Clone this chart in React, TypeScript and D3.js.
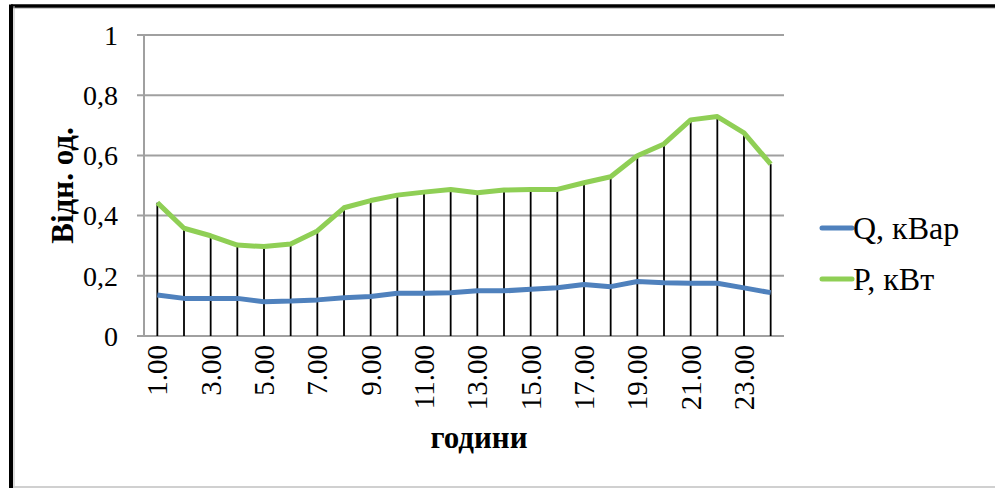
import React from "react";
import * as d3 from "d3";

// hours 1..24
const hours = d3.range(1, 25);
const qValues = [
  0.136, 0.125, 0.125, 0.125, 0.114, 0.116, 0.12, 0.127, 0.131, 0.142, 0.142, 0.144,
  0.15, 0.15, 0.155, 0.16, 0.171, 0.164, 0.181, 0.177, 0.175, 0.175, 0.16, 0.144,
];
const pValues = [
  0.443, 0.358, 0.333, 0.302, 0.297, 0.306, 0.349, 0.426, 0.45, 0.468, 0.478, 0.487,
  0.476, 0.485, 0.487, 0.487, 0.509, 0.529, 0.599, 0.638, 0.718, 0.729, 0.675, 0.571,
];
const yTicks = [0, 0.2, 0.4, 0.6, 0.8, 1];
const seriesNames = ["Q, кВар", "P, кВт"];
const seriesColors = ["#4F81BD", "#8FCF55"];

const W = 995;
const H = 488;
const FONT = "'Liberation Serif', 'Times New Roman', serif";

const App = () => {
  const margin = { left: 144, right: 211, top: 35, bottom: 152 };

  const x = d3
    .scaleBand<number>()
    .domain(hours)
    .range([margin.left, W - margin.right]);
  const cx = (h: number) => (x(h) || 0) + x.bandwidth() / 2;

  const y = d3
    .scaleLinear()
    .domain([0, 1])
    .range([H - margin.bottom, margin.top]);

  const line = d3
    .line<number>()
    .x((_, i) => cx(hours[i]))
    .y((v) => y(v));

  const series = [qValues, pValues];

  return (
    <svg
      width={W}
      height={H}
      style={{ position: "absolute", left: 0, top: 0, background: "#fff" }}
    >
      {/* frame */}
      <line x1={11} y1={6} x2={W} y2={6} stroke="#000" strokeWidth={3.5} />
      <line x1={11} y1={8.5} x2={W} y2={8.5} stroke="#ccc" strokeWidth={1} />
      <line x1={11} y1={4.5} x2={11} y2={H} stroke="#000" strokeWidth={4} />
      <line x1={14} y1={6} x2={14} y2={H} stroke="#bbb" strokeWidth={1} />
      <line x1={13} y1={H - 1} x2={W} y2={H - 1} stroke="#d0d0d0" strokeWidth={2} />

      {/* grid + y labels */}
      {yTicks.map((t) => (
        <g key={t}>
          <line
            x1={margin.left - 7}
            x2={W - margin.right}
            y1={y(t)}
            y2={y(t)}
            stroke="#a0a0a0"
            strokeWidth={2}
          />
          <text
            x={118}
            y={y(t)}
            dy="0.35em"
            textAnchor="end"
            fontFamily={FONT}
            fontSize={28}
            fill="#000"
          >
            {String(t).replace(".", ",")}
          </text>
        </g>
      ))}
      <line
        x1={margin.left}
        x2={margin.left}
        y1={y(1)}
        y2={y(0)}
        stroke="#a0a0a0"
        strokeWidth={2}
      />

      {/* drop lines */}
      {hours.map((h, i) => (
        <line
          key={h}
          x1={cx(h)}
          x2={cx(h)}
          y1={y(pValues[i])}
          y2={y(0)}
          stroke="#000"
          strokeWidth={1.8}
        />
      ))}

      {/* series */}
      {series.map((s, k) => (
        <path
          key={k}
          d={line(s) || ""}
          fill="none"
          stroke={seriesColors[k]}
          strokeWidth={5}
          strokeLinejoin="round"
        />
      ))}

      {/* x labels */}
      {hours
        .filter((h) => h % 2 === 1)
        .map((h) => (
          <text
            key={h}
            transform={`translate(${cx(h)},${y(0) + 9}) rotate(-90)`}
            dy="0.35em"
            textAnchor="end"
            fontFamily={FONT}
            fontSize={29}
            fill="#000"
          >
            {h.toFixed(2)}
          </text>
        ))}

      {/* axis titles */}
      <text
        x={479}
        y={448}
        textAnchor="middle"
        fontFamily={FONT}
        fontSize={31}
        fontWeight="bold"
      >
        години
      </text>
      <text
        transform={`translate(62,${(y(0) + y(1)) / 2}) rotate(-90)`}
        dy="0.35em"
        textAnchor="middle"
        fontFamily={FONT}
        fontSize={31}
        fontWeight="bold"
      >
        Відн. од.
      </text>

      {/* legend */}
      {seriesNames.map((name, k) => (
        <g key={name} transform={`translate(822,${228 + k * 51})`}>
          <line x1={0} x2={30} y1={0} y2={0} stroke={seriesColors[k]} strokeWidth={5} strokeLinecap="round" />
          <text x={31} y={0} dy="0.35em" fontFamily={FONT} fontSize={32}>
            {name}
          </text>
        </g>
      ))}
    </svg>
  );
};

export default App;
